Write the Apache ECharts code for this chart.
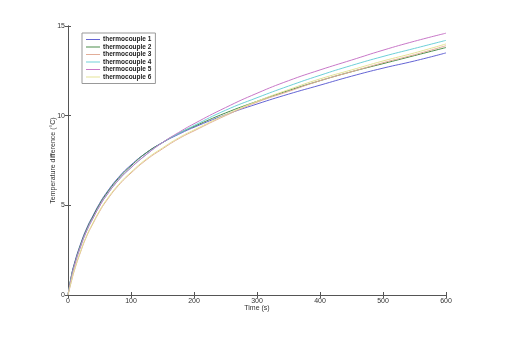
<!DOCTYPE html>
<html>
<head>
<meta charset="utf-8">
<script src="https://cdn.jsdelivr.net/npm/echarts@6/dist/echarts.min.js"></script>
<style>
  html, body { margin: 0; padding: 0; background: #fff; }
  #chart { width: 506px; height: 340px; }
</style>
</head>
<body>
<div id="chart"></div>
<script>
// time stamps (s)
const times = [0, 5, 10, 20, 30, 40, 50, 60, 80, 100, 125, 150, 175, 200, 250, 300, 350, 400, 450, 500, 550, 600];

// temperature difference (°C)
const tc1 = [0, 1.0, 1.75, 2.85, 3.75, 4.45, 5.1, 5.65, 6.55, 7.25, 7.95, 8.5, 8.95, 9.35, 10.05, 10.65, 11.2, 11.7, 12.2, 12.65, 13.05, 13.5];
const tc2 = [0, 1.0, 1.7, 2.8, 3.7, 4.4, 5.05, 5.6, 6.5, 7.2, 7.95, 8.5, 9.0, 9.4, 10.15, 10.8, 11.4, 11.95, 12.45, 12.9, 13.35, 13.8];
const tc3 = [0, 0.7, 1.35, 2.4, 3.3, 4.0, 4.65, 5.2, 6.1, 6.8, 7.55, 8.15, 8.7, 9.15, 10.0, 10.75, 11.35, 11.95, 12.45, 12.95, 13.4, 13.9];
const tc4 = [0, 0.9, 1.6, 2.7, 3.6, 4.3, 4.95, 5.5, 6.4, 7.1, 7.85, 8.5, 9.0, 9.45, 10.3, 11.0, 11.65, 12.25, 12.8, 13.3, 13.75, 14.2];
const tc5 = [0, 0.9, 1.6, 2.7, 3.6, 4.3, 4.95, 5.5, 6.4, 7.1, 7.85, 8.5, 9.05, 9.55, 10.45, 11.25, 11.95, 12.55, 13.1, 13.65, 14.15, 14.6];
const tc6 = [0, 0.75, 1.4, 2.45, 3.35, 4.05, 4.7, 5.25, 6.15, 6.85, 7.6, 8.2, 8.75, 9.2, 10.05, 10.8, 11.45, 12.05, 12.55, 13.05, 13.5, 14.0];

const names = ['thermocouple 1', 'thermocouple 2', 'thermocouple 3', 'thermocouple 4', 'thermocouple 5', 'thermocouple 6'];
const colors = ['#6464d4', '#4a8c4a', '#e2ad98', '#6ed0d8', '#c878c8', '#e4e296'];
const values = [tc1, tc2, tc3, tc4, tc5, tc6];

const chart = echarts.init(document.getElementById('chart'));

const axisColor = '#555';
const labelFont = { color: '#333', fontSize: 7, fontFamily: 'Liberation Sans' };
const nameFont = { fontSize: 7, color: '#333', fontFamily: 'Liberation Sans' };

const series = values.map((vals, i) => ({
  name: names[i],
  type: 'line',
  symbol: 'none',
  smooth: true,
  data: times.map((t, j) => [t, vals[j]]),
  lineStyle: { width: 1, color: colors[i] },
  itemStyle: { color: colors[i] },
}));

const option = {
  backgroundColor: '#fff',
  animation: false,
  grid: { left: 68, right: 60, top: 26, bottom: 45 },
  legend: {
    data: names,
    orient: 'vertical',
    left: 82,
    top: 33,
    itemWidth: 14,
    itemHeight: 1,
    itemGap: 0.5,
    padding: [3, 4, 3, 4],
    borderColor: '#999',
    borderWidth: 1,
    backgroundColor: '#fff',
    icon: 'rect',
    textStyle: { fontSize: 6.5, fontWeight: 'bold', color: '#222', fontFamily: 'Liberation Sans', padding: [0, 0, 0, -2] },
  },
  xAxis: [
    {
      type: 'value',
      min: 0,
      max: 600,
      interval: 100,
      name: 'Time (s)',
      nameLocation: 'middle',
      nameGap: 10,
      nameMoveOverlap: false,
      nameTextStyle: nameFont,
      axisLine: { lineStyle: { color: axisColor } },
      axisTick: { inside: true, length: 3, lineStyle: { color: axisColor } },
      axisLabel: Object.assign({ margin: 3 }, labelFont),
      splitLine: { show: false },
    },
    {
      type: 'value',
      position: 'top',
      min: 0,
      max: 600,
      interval: 100,
      axisLine: { lineStyle: { color: axisColor } },
      axisTick: { inside: true, length: 3, lineStyle: { color: axisColor } },
      axisLabel: { show: false },
      splitLine: { show: false },
    },
  ],
  yAxis: [
    {
      type: 'value',
      min: 0,
      max: 15,
      interval: 5,
      name: 'Temperature difference (°C)',
      nameLocation: 'middle',
      nameGap: 11,
      nameMoveOverlap: false,
      nameTextStyle: nameFont,
      axisLine: { show: true, lineStyle: { color: axisColor } },
      axisTick: { show: true, inside: true, length: 3, lineStyle: { color: axisColor } },
      axisLabel: Object.assign({ margin: 3 }, labelFont),
      splitLine: { show: false },
    },
    {
      type: 'value',
      position: 'right',
      min: 0,
      max: 15,
      interval: 5,
      axisLine: { show: true, lineStyle: { color: axisColor } },
      axisTick: { show: true, inside: true, length: 3, lineStyle: { color: axisColor } },
      axisLabel: { show: false },
      splitLine: { show: false },
    },
  ],
  series,
};

chart.setOption(option);
</script>
</body>
</html>
